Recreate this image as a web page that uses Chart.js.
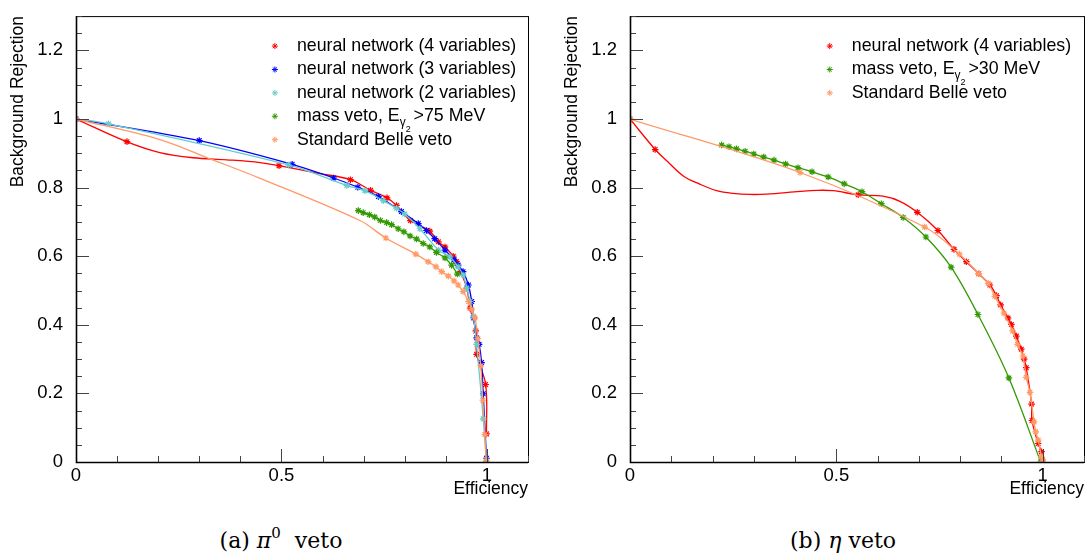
<!DOCTYPE html>
<html>
<head>
<meta charset="utf-8">
<script src="https://cdn.jsdelivr.net/npm/chart.js@4.4.1/dist/chart.umd.min.js"></script>
<style>
  body { margin: 0; background: #fff; width: 1090px; height: 557px; position: relative; overflow: hidden; }
  canvas { position: absolute; top: 0; }
  #pi0Chart { left: 0; }
  #etaChart { left: 545px; }
  .cap { position: absolute; top: 528px; transform: translateX(-50%); white-space: nowrap;
         font-family: "DejaVu Serif", "Liberation Serif", serif; font-size: 22px; color: #000; }
  .cap sup { font-size: 15px; vertical-align: 10px; line-height: 0; }
</style>
</head>
<body>
<canvas id="pi0Chart" width="545" height="500"></canvas>
<canvas id="etaChart" width="545" height="500"></canvas>
<div class="cap" style="left:281px">(a) <i>π</i><sup>0</sup>&nbsp; veto</div>
<div class="cap" style="left:843px">(b) <i>η</i> veto</div>
<script>
// ---- (a) pi0 veto : [efficiency, background rejection] ----
const nn4Pi0 = [[0,1],[0.124,0.934],[0.494,0.864],[0.668,0.823],[0.717,0.792],[0.757,0.770],[0.780,0.748],
  [0.814,0.704],[0.861,0.673],[0.882,0.642],[0.898,0.627],[0.918,0.600],[0.926,0.584],[0.936,0.555],
  [0.951,0.507],[0.959,0.449],[0.973,0.382],[0.975,0.314],[0.997,0.226],[0.999,0.082]];
// the fitted curve wiggles between the first markers
const nn4Pi0Head = [[0,1],[0.123,0.934],[0.204,0.902],[0.285,0.887],[0.367,0.881],[0.448,0.873],
  [0.494,0.864],[0.594,0.841]];
const nn3Pi0 = [[0,1],[0.300,0.937],[0.526,0.868],[0.627,0.828],[0.686,0.801],[0.736,0.774],[0.792,0.730],
  [0.833,0.695],[0.853,0.675],[0.873,0.651],[0.898,0.618],[0.920,0.590],[0.930,0.574],[0.942,0.555],
  [0.955,0.516],[0.963,0.468],[0.968,0.420],[0.975,0.362],[0.981,0.343],[0.987,0.290],[0.991,0.199],
  [0.999,0.011]];
const nn2Pi0 = [[0,1],[0.079,0.986],[0.517,0.866],[0.659,0.806],[0.703,0.791],[0.748,0.762],[0.780,0.740],
  [0.800,0.723],[0.837,0.680],[0.882,0.618],[0.910,0.598],[0.930,0.569],[0.942,0.545],[0.951,0.507],
  [0.959,0.468],[0.967,0.425],[0.975,0.343],[0.991,0.126],[0.999,0.001]];
const massPi0 = [[0.687,0.733],[0.699,0.727],[0.714,0.721],[0.727,0.714],[0.741,0.704],[0.756,0.698],
  [0.768,0.692],[0.784,0.680],[0.798,0.671],[0.813,0.659],[0.829,0.650],[0.845,0.637],[0.861,0.627],
  [0.877,0.611],[0.898,0.595],[0.914,0.574],[0.928,0.548]];
const bellePi0 = [[0,1],[0.754,0.653],[0.827,0.606],[0.857,0.584],[0.876,0.569],[0.890,0.555],[0.906,0.542],
  [0.920,0.528],[0.930,0.516],[0.942,0.497],[0.955,0.468],[0.963,0.445],[0.971,0.420],[0.978,0.360],
  [0.985,0.280],[0.990,0.180],[0.995,0.080],[0.998,0.003]];
const bellePi0Head = [[0,1],[0.204,0.940],[0.326,0.884],[0.448,0.827],[0.691,0.704]];
const pi0Labels = ["neural network (4 variables)", "neural network (3 variables)",
  "neural network (2 variables)", "mass veto, E_γ2 >75 MeV", "Standard Belle veto"];

// ---- (b) eta veto ----
const nn4Eta = [[0,1],[0.061,0.911],[0.553,0.779],[0.696,0.728],[0.746,0.675],[0.785,0.620],[0.815,0.584],
  [0.845,0.549],[0.872,0.516],[0.888,0.485],[0.898,0.458],[0.916,0.420],[0.924,0.401],[0.936,0.367],
  [0.948,0.329],[0.955,0.300],[0.960,0.275],[0.973,0.169],[0.974,0.121],[0.989,0.054],[0.997,0.030],
  [0.999,0.006]];
const nn4EtaHead = [[0,1],[0.061,0.911],[0.089,0.878],[0.129,0.834],[0.169,0.810],[0.210,0.791],
  [0.250,0.783],[0.291,0.780],[0.331,0.781],[0.412,0.789],[0.452,0.792],[0.492,0.791],[0.553,0.779],
  [0.613,0.775],[0.654,0.760]];
const massEta = [[0.222,0.924],[0.240,0.919],[0.258,0.913],[0.279,0.906],[0.300,0.898],[0.324,0.889],
  [0.349,0.880],[0.377,0.869],[0.407,0.858],[0.441,0.846],[0.480,0.831],[0.519,0.811],[0.562,0.788],
  [0.609,0.753],[0.662,0.713],[0.717,0.656],[0.778,0.568],[0.843,0.430],[0.918,0.245],[0.995,0.0]];
const belleEta = [[0,1],[0.412,0.844],[0.714,0.685],[0.798,0.606],[0.845,0.549],[0.868,0.521],[0.884,0.483],
  [0.906,0.434],[0.927,0.382],[0.939,0.343],[0.952,0.309],[0.960,0.247],[0.969,0.203],[0.979,0.117],
  [0.983,0.088],[0.989,0.064],[0.997,0.015],[0.999,0.001]];
const etaLabels = ["neural network (4 variables)", "mass veto, E_γ2 >30 MeV", "Standard Belle veto"];

// colours
const RED = "#ff0000", BLUE = "#0000ff", CYAN = "#66cccc", GREEN = "#339900", ORANGE = "#ff9966";

const FONT = "'Liberation Sans', Arial, sans-serif";
const toXY = (arr) => arr.map((p) => ({ x: p[0], y: p[1] }));
const isMult = (v, step) => Math.abs(v / step - Math.round(v / step)) < 1e-6;
const fmt = (v) => String(Math.round(v * 100) / 100);

// ROOT style frame with ticks pointing inwards
const rootFrame = {
  id: "rootFrame",
  afterDraw(chart) {
    const { ctx, chartArea: a, scales } = chart;
    ctx.save();
    ctx.strokeStyle = "#000";
    ctx.lineWidth = 1;
    ctx.strokeRect(a.left + 0.5, a.top + 0.5, a.right - a.left, a.bottom - a.top);
    ctx.beginPath();
    scales.x.ticks.forEach((t) => {
      const px = Math.round(scales.x.getPixelForValue(t.value)) + 0.5;
      const len = isMult(t.value, 0.5) ? 13 : 6;
      ctx.moveTo(px, a.bottom);
      ctx.lineTo(px, a.bottom - len);
    });
    scales.y.ticks.forEach((t) => {
      const py = Math.round(scales.y.getPixelForValue(t.value)) + 0.5;
      const len = isMult(t.value, 0.2) ? 13 : 6;
      ctx.moveTo(a.left, py);
      ctx.lineTo(a.left + len, py);
    });
    ctx.strokeStyle = "#444";
    ctx.stroke();
    ctx.beginPath();
    ctx.lineWidth = 1.6;
    ctx.strokeStyle = "#000";
    ctx.moveTo(a.left + 0.5, a.top);
    ctx.lineTo(a.left + 0.5, a.bottom + 0.5);
    ctx.lineTo(a.right, a.bottom + 0.5);
    ctx.stroke();
    ctx.restore();
  },
};

// legend drawn inside the frame, with the E_gamma2 subscript
const rocLegend = {
  id: "rocLegend",
  afterDraw(chart, args, opts) {
    const { ctx, chartArea: a } = chart;
    const x0 = a.left + 0.44 * (a.right - a.left);
    ctx.save();
    opts.items.forEach((it, i) => {
      const y = a.top + 30 + i * 23.4;
      ctx.strokeStyle = it.color;
      ctx.fillStyle = it.color;
      Chart.helpers.drawPoint(ctx, { pointStyle: "star", radius: 3, borderWidth: 1.2, rotation: 0 }, x0, y);
      ctx.fillStyle = "#000";
      ctx.textBaseline = "middle";
      ctx.textAlign = "left";
      const parts = it.label.split("_γ2");
      let x = x0 + 22;
      ctx.font = "17.8px " + FONT;
      ctx.fillText(parts[0], x, y);
      x += ctx.measureText(parts[0]).width;
      if (parts.length > 1) {
        ctx.font = "12px " + FONT;
        ctx.fillText("γ", x, y + 6);
        const gw = ctx.measureText("γ").width;
        ctx.font = "9px " + FONT;
        ctx.fillText("2", x + gw, y + 13);
        x += gw + 3;
        ctx.font = "17.8px " + FONT;
        ctx.fillText(parts[1], x, y);
      }
    });
    ctx.restore();
  },
};

function makePanel(id, series, yTitleGap, yWidth, rightPad) {
  const datasets = [];
  series.forEach((s, i) => {
    const order = series.length - i; // later series drawn on top, like ROOT
    datasets.push({
      data: toXY(s.line || s.pts), showLine: true, borderColor: s.color, borderWidth: 1.3,
      pointRadius: 0, tension: 0.35, order: order + 0.5,
    });
    datasets.push({
      data: toXY(s.pts), showLine: false, pointStyle: "star", pointRadius: 3.3, borderWidth: 1.2,
      borderColor: s.color, backgroundColor: s.color, order: order,
    });
  });

  return new Chart(document.getElementById(id), {
    type: "scatter",
    data: { datasets },
    plugins: [rootFrame, rocLegend],
    options: {
      responsive: false,
      animation: false,
      layout: { padding: { top: 12, right: rightPad, left: 0, bottom: 0 } },
      plugins: {
        legend: { display: false },
        tooltip: { enabled: false },
        rocLegend: { items: series.map((s) => ({ label: s.label, color: s.color })) },
      },
      scales: {
        x: {
          type: "linear", min: 0, max: 1.1,
          grid: { display: false }, border: { display: false },
          afterFit: (s) => { s.height = 38; },
          ticks: {
            stepSize: 0.1, autoSkip: false, maxRotation: 0, padding: -5, color: "#000",
            font: { family: FONT, size: 18.5 },
            callback: (v) => (isMult(v, 0.5) && v <= 1 ? fmt(v) : ""),
          },
          title: {
            display: true, text: "Efficiency", align: "end", color: "#000",
            font: { family: FONT, size: 17.5 }, padding: { top: 0, bottom: 0 },
          },
        },
        y: {
          type: "linear", min: 0, max: 1.3,
          grid: { display: false }, border: { display: false },
          afterFit: (s) => { s.width = yWidth; },
          ticks: {
            stepSize: 0.05, autoSkip: false, padding: 5, color: "#000",
            font: { family: FONT, size: 18.5 },
            callback: (v) => (isMult(v, 0.2) || isMult(v, 1) ? fmt(v) : ""),
          },
          title: {
            display: true, text: "Background Rejection", align: "end", color: "#000",
            font: { family: FONT, size: 17.5 }, padding: { top: yTitleGap, bottom: 0 },
          },
        },
      },
    },
  });
}

makePanel("pi0Chart", [
  { label: pi0Labels[0], pts: nn4Pi0, line: nn4Pi0Head.concat(nn4Pi0.slice(3)), color: RED },
  { label: pi0Labels[1], pts: nn3Pi0, color: BLUE },
  { label: pi0Labels[2], pts: nn2Pi0, color: CYAN },
  { label: pi0Labels[3], pts: massPi0, color: GREEN },
  { label: pi0Labels[4], pts: bellePi0, line: bellePi0Head.concat(bellePi0.slice(1)), color: ORANGE },
], 7.5, 76, 17);

makePanel("etaChart", [
  { label: etaLabels[0], pts: nn4Eta, line: nn4EtaHead.concat(nn4Eta.slice(3)), color: RED },
  { label: etaLabels[1], pts: massEta, color: GREEN },
  { label: etaLabels[2], pts: belleEta, color: ORANGE },
], 16.5, 85, 6);
</script>
</body>
</html>
